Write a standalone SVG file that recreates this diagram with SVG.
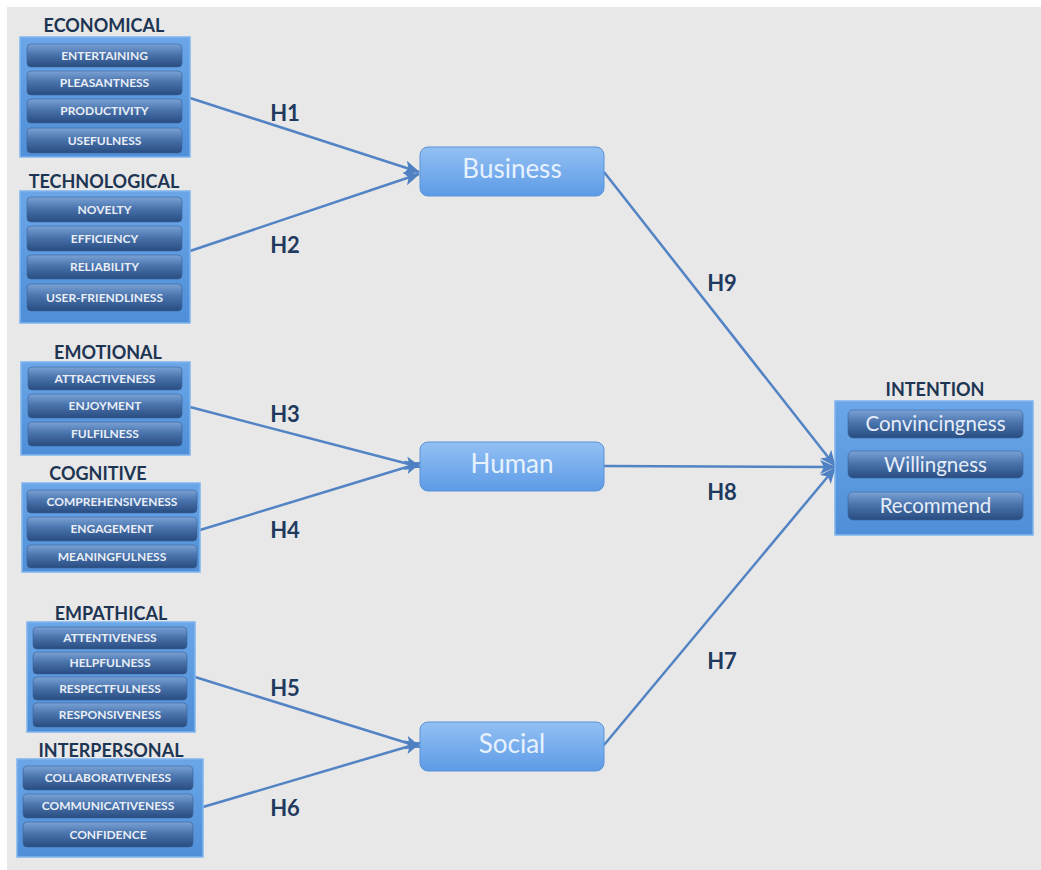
<svg xmlns="http://www.w3.org/2000/svg" width="1041" height="870" viewBox="0 0 1041 870">
  <defs>
    <linearGradient id="gPanel" x1="0" y1="0" x2="0" y2="1">
      <stop offset="0" stop-color="#6aa6e8"/>
      <stop offset="1" stop-color="#4f8fd8"/>
    </linearGradient>
    <linearGradient id="gItem" x1="0" y1="0" x2="0" y2="1">
      <stop offset="0" stop-color="#7aa2d6"/>
      <stop offset="0.45" stop-color="#4a74ad"/>
      <stop offset="1" stop-color="#284c80"/>
    </linearGradient>
    <linearGradient id="gNode" x1="0" y1="0" x2="0" y2="1">
      <stop offset="0" stop-color="#93c0f3"/>
      <stop offset="1" stop-color="#5d9be6"/>
    </linearGradient>
    <marker id="arrow" markerUnits="userSpaceOnUse" markerWidth="16" markerHeight="14" refX="15" refY="7" orient="auto">
      <path d="M0,0 L16,7 L0,14 L4,7 Z" fill="#4f80c2"/>
    </marker>
  </defs>
  <style>
    .panel { fill: url(#gPanel); stroke: #7fb4ee; stroke-width: 1.5; }
    .item { fill: url(#gItem); stroke: #3b6297; stroke-width: 0.6; }
    .itxt { font-family: Lato, "Open Sans", sans-serif; font-weight: bold; font-size: 12px; fill: #e9eef7; text-anchor: middle; }
    .cat { font-family: Lato, "Open Sans", sans-serif; font-weight: bold; font-size: 18px; fill: #1d3553; text-anchor: middle; }
    .node { fill: url(#gNode); stroke: #5a92d8; stroke-width: 1; }
    .ntxt { font-family: Lato, "Open Sans", sans-serif; font-size: 26px; fill: #e8f2ff; text-anchor: middle; }
    .bigtxt { font-family: Lato, "Open Sans", sans-serif; font-size: 20.5px; fill: #e6edf8; text-anchor: middle; }
    .hyp { font-family: Lato, "Open Sans", sans-serif; font-weight: bold; font-size: 22px; fill: #1f3a5e; text-anchor: middle; }
    .edge { stroke: #5283c4; stroke-width: 2.5; fill: none; marker-end: url(#arrow); }
  </style>

  <!-- canvas -->
  <rect x="0" y="0" width="1041" height="870" fill="#ffffff"/>
  <rect x="7" y="7" width="1034" height="863" fill="#e8e8e8"/>

  <!-- connectors -->
  <g id="connectors">
    <line class="edge" x1="190" y1="98" x2="419" y2="172"/>
    <line class="edge" x1="190" y1="251" x2="419" y2="174"/>
    <line class="edge" x1="190" y1="407" x2="420" y2="467"/>
    <line class="edge" x1="200" y1="530" x2="420" y2="463"/>
    <line class="edge" x1="195" y1="677" x2="420" y2="747"/>
    <line class="edge" x1="203" y1="807" x2="420" y2="743"/>
    <line class="edge" x1="604" y1="172" x2="835" y2="466"/>
    <line class="edge" x1="604" y1="466" x2="835" y2="467"/>
    <line class="edge" x1="604" y1="745" x2="835" y2="468"/>
    <text class="hyp" x="285" y="121">H1</text>
    <text class="hyp" x="285" y="253">H2</text>
    <text class="hyp" x="285" y="422">H3</text>
    <text class="hyp" x="285" y="538">H4</text>
    <text class="hyp" x="285" y="696">H5</text>
    <text class="hyp" x="285" y="816">H6</text>
    <text class="hyp" x="722" y="291">H9</text>
    <text class="hyp" x="722" y="500">H8</text>
    <text class="hyp" x="722" y="669">H7</text>
  </g>

  <!-- antecedent groups -->
  <g id="economical">
    <text class="cat" x="104" y="32">ECONOMICAL</text>
    <rect class="panel" x="20" y="37" width="170" height="120"/>
    <rect class="item" x="27" y="44" width="155" height="23" rx="4"/>
    <text class="itxt" x="104.5" y="60">ENTERTAINING</text>
    <rect class="item" x="27" y="71" width="155" height="24" rx="4"/>
    <text class="itxt" x="104.5" y="87">PLEASANTNESS</text>
    <rect class="item" x="27" y="99" width="155" height="24" rx="4"/>
    <text class="itxt" x="104.5" y="115">PRODUCTIVITY</text>
    <rect class="item" x="27" y="128" width="155" height="25" rx="4"/>
    <text class="itxt" x="104.5" y="145">USEFULNESS</text>
  </g>

  <g id="technological">
    <text class="cat" x="104" y="188">TECHNOLOGICAL</text>
    <rect class="panel" x="20" y="191" width="170" height="132"/>
    <rect class="item" x="27" y="197" width="155" height="25" rx="4"/>
    <text class="itxt" x="104.5" y="214">NOVELTY</text>
    <rect class="item" x="27" y="226" width="155" height="25" rx="4"/>
    <text class="itxt" x="104.5" y="243">EFFICIENCY</text>
    <rect class="item" x="27" y="255" width="155" height="24" rx="4"/>
    <text class="itxt" x="104.5" y="271">RELIABILITY</text>
    <rect class="item" x="27" y="284" width="155" height="27" rx="4"/>
    <text class="itxt" x="104.5" y="302">USER-FRIENDLINESS</text>
  </g>

  <g id="emotional">
    <text class="cat" x="108" y="359">EMOTIONAL</text>
    <rect class="panel" x="21" y="362" width="169" height="93"/>
    <rect class="item" x="28" y="367" width="154" height="23" rx="4"/>
    <text class="itxt" x="105" y="383">ATTRACTIVENESS</text>
    <rect class="item" x="28" y="394" width="154" height="24" rx="4"/>
    <text class="itxt" x="105" y="410">ENJOYMENT</text>
    <rect class="item" x="28" y="422" width="154" height="24" rx="4"/>
    <text class="itxt" x="105" y="438">FULFILNESS</text>
  </g>

  <g id="cognitive">
    <text class="cat" x="98" y="480">COGNITIVE</text>
    <rect class="panel" x="22" y="483" width="178" height="89"/>
    <rect class="item" x="27" y="490" width="170" height="23" rx="4"/>
    <text class="itxt" x="112" y="506">COMPREHENSIVENESS</text>
    <rect class="item" x="27" y="517" width="170" height="24" rx="4"/>
    <text class="itxt" x="112" y="533">ENGAGEMENT</text>
    <rect class="item" x="27" y="545" width="170" height="23" rx="4"/>
    <text class="itxt" x="112" y="561">MEANINGFULNESS</text>
  </g>

  <g id="empathical">
    <text class="cat" x="111" y="620">EMPATHICAL</text>
    <rect class="panel" x="27" y="622" width="168" height="110"/>
    <rect class="item" x="33" y="627" width="154" height="22" rx="4"/>
    <text class="itxt" x="110" y="642">ATTENTIVENESS</text>
    <rect class="item" x="33" y="652" width="154" height="22" rx="4"/>
    <text class="itxt" x="110" y="667">HELPFULNESS</text>
    <rect class="item" x="33" y="677" width="154" height="23" rx="4"/>
    <text class="itxt" x="110" y="693">RESPECTFULNESS</text>
    <rect class="item" x="33" y="703" width="154" height="24" rx="4"/>
    <text class="itxt" x="110" y="719">RESPONSIVENESS</text>
  </g>

  <g id="interpersonal">
    <text class="cat" x="111" y="757">INTERPERSONAL</text>
    <rect class="panel" x="17" y="759" width="186" height="98"/>
    <rect class="item" x="23" y="766" width="170" height="24" rx="4"/>
    <text class="itxt" x="108" y="782">COLLABORATIVENESS</text>
    <rect class="item" x="23" y="794" width="170" height="24" rx="4"/>
    <text class="itxt" x="108" y="810">COMMUNICATIVENESS</text>
    <rect class="item" x="23" y="822" width="170" height="25" rx="4"/>
    <text class="itxt" x="108" y="839">CONFIDENCE</text>
  </g>

  <!-- mediating constructs -->
  <g id="business">
    <rect class="node" x="420" y="147" width="184" height="49" rx="8"/>
    <text class="ntxt" x="512" y="178">Business</text>
  </g>
  <g id="human">
    <rect class="node" x="420" y="442" width="184" height="49" rx="8"/>
    <text class="ntxt" x="512" y="473">Human</text>
  </g>
  <g id="social">
    <rect class="node" x="420" y="722" width="184" height="49" rx="8"/>
    <text class="ntxt" x="512" y="753">Social</text>
  </g>

  <!-- outcome -->
  <g id="intention">
    <text class="cat" x="935" y="396">INTENTION</text>
    <rect class="panel" x="835" y="401" width="198" height="134"/>
    <rect class="item" x="848" y="410" width="175" height="28" rx="5"/>
    <text class="bigtxt" x="935.5" y="431">Convincingness</text>
    <rect class="item" x="848" y="451" width="175" height="27" rx="5"/>
    <text class="bigtxt" x="935.5" y="472">Willingness</text>
    <rect class="item" x="848" y="492" width="175" height="28" rx="5"/>
    <text class="bigtxt" x="935.5" y="513">Recommend</text>
  </g>
</svg>
